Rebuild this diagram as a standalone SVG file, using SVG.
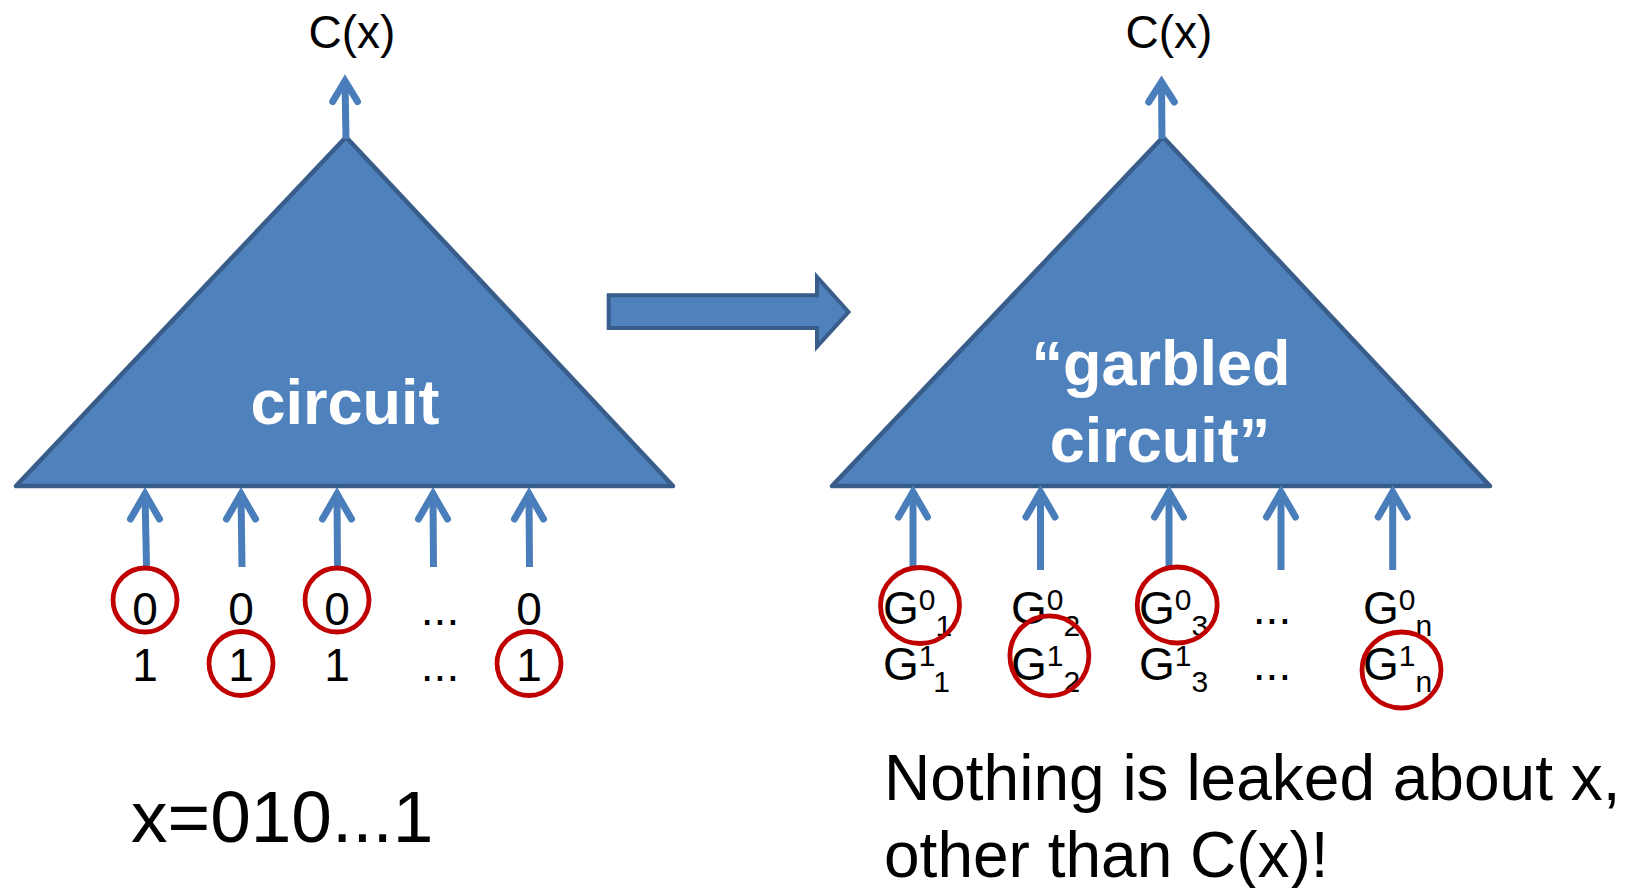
<svg xmlns="http://www.w3.org/2000/svg" width="1626" height="888" viewBox="0 0 1626 888">
  <defs>
    <style>
      .tri { fill: #4F81BD; stroke: #385D8A; stroke-width: 4.5; stroke-linejoin: round; }
      .wire { fill: none; stroke: #4A7EBB; stroke-width: 7; stroke-linecap: butt; }
      .head { fill: none; stroke: #4A7EBB; stroke-width: 7; stroke-linecap: round; stroke-linejoin: miter; stroke-miterlimit: 10; }
      .sel { fill: none; stroke: #C00000; stroke-width: 4.8; }
      .t { font-family: "Liberation Sans", Arial, sans-serif; fill: #000; }
      .lbl { font-family: "Liberation Sans", Arial, sans-serif; font-weight: bold; fill: #FFFFFF; font-size: 63px; text-anchor: middle; }
      .bit { font-size: 46px; text-anchor: middle; }
      .g { font-size: 46px; }
      .s { font-size: 30px; }
    </style>
  </defs>

  <!-- plain circuit -->
  <g id="circuit">
    <polygon class="tri" points="346,137 16,486 673,486"/>
    <text class="lbl" x="345" y="424">circuit</text>
  </g>

  <!-- garbled circuit -->
  <g id="garbled-circuit">
    <polygon class="tri" points="1163,137 832,486 1490,486"/>
    <text class="lbl" x="1161" y="385">“garbled</text>
    <text class="lbl" x="1160" y="462">circuit”</text>
  </g>

  <!-- block arrow between the two circuits -->
  <g id="transform-arrow">
    <polygon points="608.7,295.3 817,295.3 817,277 848.5,312 817,346.5 817,328 608.7,328" fill="#4F81BD" stroke="#385D8A" stroke-width="4"/>
  </g>

  <!-- wires -->
  <g id="connectors">
    <!-- outputs -->
    <line class="wire" x1="346" y1="139" x2="345" y2="81"/>
    <polyline class="head" points="332.7,101.5 345,81 357.5,101.5"/>
    <line class="wire" x1="1162" y1="139" x2="1161.5" y2="82"/>
    <polyline class="head" points="1148.7,102 1161.5,82 1174.3,102"/>

    <!-- plain inputs -->
    <line class="wire" x1="146.5" y1="566" x2="145" y2="494"/>
    <polyline class="head" points="130.5,519 145,494 159.5,519"/>
    <line class="wire" x1="242" y1="567" x2="241" y2="494"/>
    <polyline class="head" points="226.5,519 241,494 255.5,519"/>
    <line class="wire" x1="337.5" y1="567" x2="337" y2="494"/>
    <polyline class="head" points="322.5,519 337,494 351.5,519"/>
    <line class="wire" x1="433.5" y1="567" x2="433" y2="494"/>
    <polyline class="head" points="418.5,519 433,494 447.5,519"/>
    <line class="wire" x1="529.5" y1="567" x2="529" y2="494"/>
    <polyline class="head" points="514.5,519 529,494 543.5,519"/>

    <!-- garbled inputs -->
    <line class="wire" x1="913" y1="570" x2="913" y2="492"/>
    <polyline class="head" points="898.5,517 913,492 927.5,517"/>
    <line class="wire" x1="1040.5" y1="570" x2="1040.5" y2="492"/>
    <polyline class="head" points="1026,517 1040.5,492 1055,517"/>
    <line class="wire" x1="1169" y1="570" x2="1169" y2="492"/>
    <polyline class="head" points="1154.5,517 1169,492 1183.5,517"/>
    <line class="wire" x1="1281" y1="570" x2="1281" y2="492"/>
    <polyline class="head" points="1266.5,517 1281,492 1295.5,517"/>
    <line class="wire" x1="1392.7" y1="570" x2="1392.7" y2="492"/>
    <polyline class="head" points="1378.2,517 1392.7,492 1407.2,517"/>
  </g>

  <!-- output labels -->
  <g id="outputs">
    <text class="t" x="352" y="48" font-size="46" text-anchor="middle">C(x)</text>
    <text class="t" x="1169" y="48" font-size="46" text-anchor="middle">C(x)</text>
  </g>

  <!-- plain input bits -->
  <g id="plain-bits">
    <g class="t bit">
      <text x="145" y="625">0</text>
      <text x="241" y="625">0</text>
      <text x="337" y="625">0</text>
      <text x="440" y="625">...</text>
      <text x="529" y="625">0</text>
      <text x="145" y="681">1</text>
      <text x="241" y="681">1</text>
      <text x="337" y="681">1</text>
      <text x="440" y="681">...</text>
      <text x="529" y="681">1</text>
    </g>
    <circle class="sel" cx="145" cy="600" r="32"/>
    <circle class="sel" cx="241" cy="663.5" r="32"/>
    <circle class="sel" cx="337" cy="600" r="32"/>
    <circle class="sel" cx="529" cy="663.5" r="32"/>
  </g>

  <!-- garbled input labels -->
  <g id="garbled-labels">
    <g class="t g">
      <text x="883" y="624">G<tspan class="s" dy="-14">0</tspan><tspan class="s" dy="26">1</tspan></text>
      <text x="1011" y="624">G<tspan class="s" dy="-14">0</tspan><tspan class="s" dy="26">2</tspan></text>
      <text x="1139" y="624">G<tspan class="s" dy="-14">0</tspan><tspan class="s" dy="26">3</tspan></text>
      <text x="1272" y="624" text-anchor="middle">...</text>
      <text x="1363" y="624">G<tspan class="s" dy="-14">0</tspan><tspan class="s" dy="26">n</tspan></text>
      <text x="883" y="680">G<tspan class="s" dy="-14">1</tspan><tspan class="s" dy="26">1</tspan></text>
      <text x="1011" y="680">G<tspan class="s" dy="-14">1</tspan><tspan class="s" dy="26">2</tspan></text>
      <text x="1139" y="680">G<tspan class="s" dy="-14">1</tspan><tspan class="s" dy="26">3</tspan></text>
      <text x="1272" y="680" text-anchor="middle">...</text>
      <text x="1363" y="680">G<tspan class="s" dy="-14">1</tspan><tspan class="s" dy="26">n</tspan></text>
    </g>
    <ellipse class="sel" cx="920" cy="605.5" rx="39.5" ry="38"/>
    <ellipse class="sel" cx="1049.4" cy="655.8" rx="39.5" ry="40"/>
    <ellipse class="sel" cx="1177.2" cy="605" rx="40" ry="38"/>
    <ellipse class="sel" cx="1401.5" cy="670" rx="39.5" ry="38"/>
  </g>

  <!-- captions -->
  <g id="captions">
    <text class="t" x="131" y="842" font-size="73">x=010...1</text>
    <text class="t" x="884" y="800" font-size="64">Nothing is leaked about x,</text>
    <text class="t" x="884" y="877" font-size="64">other than C(x)!</text>
  </g>
</svg>
